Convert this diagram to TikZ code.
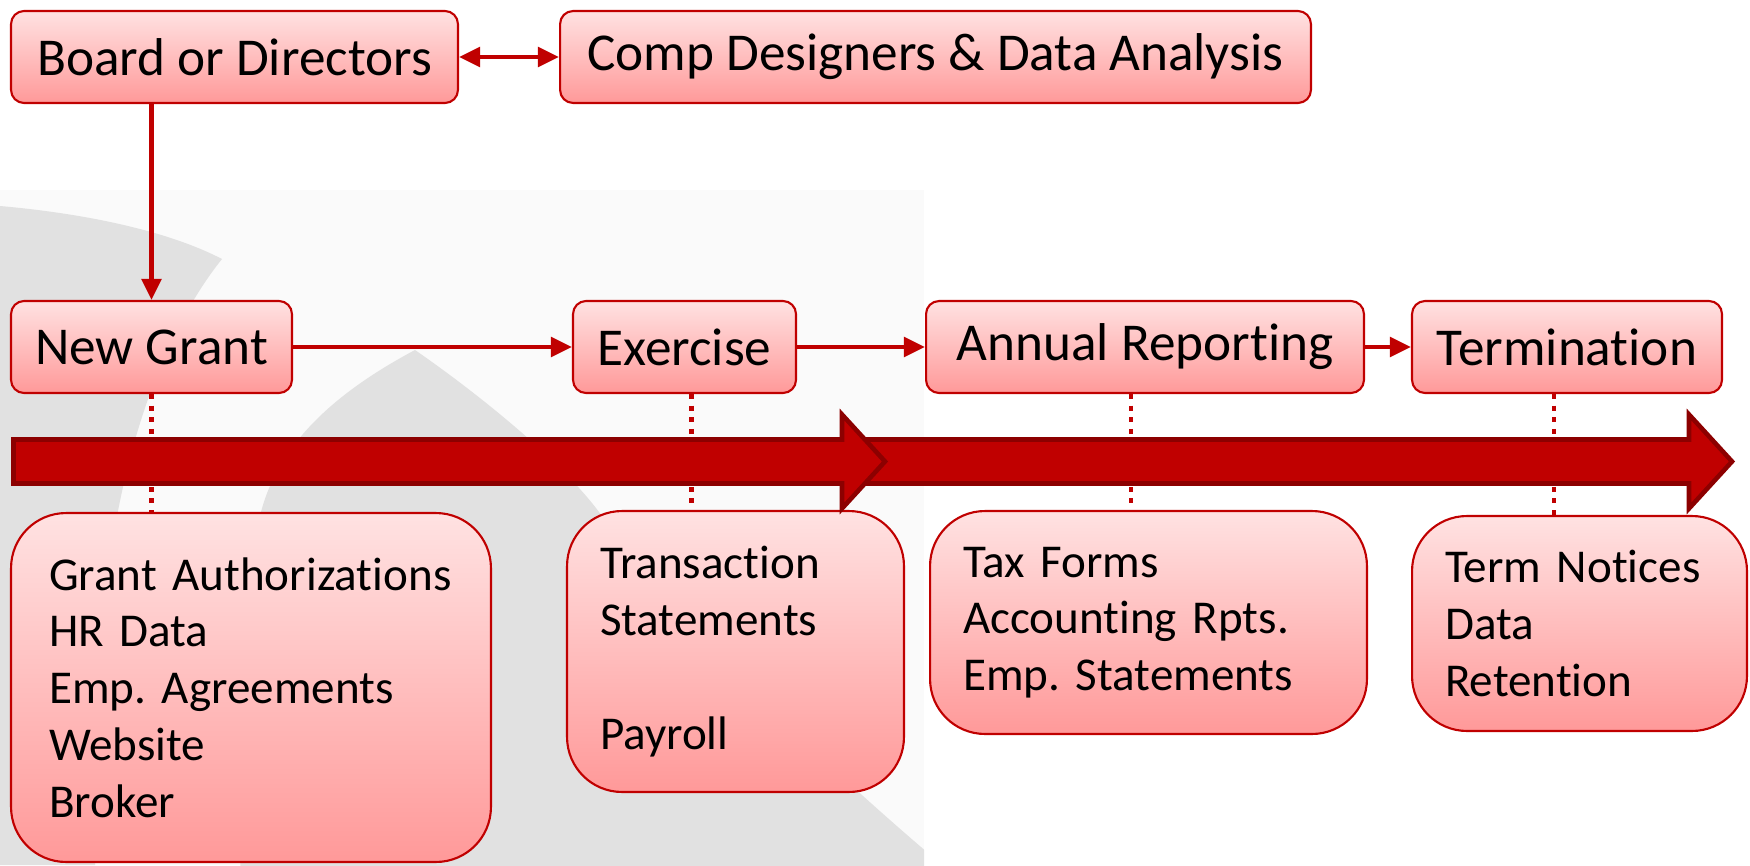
\documentclass[tikz,border=0pt]{standalone}
\usepackage{fontspec}
\setmainfont{Carlito}[Ligatures={NoCommon}]
\frenchspacing
\hyphenpenalty=10000
\usetikzlibrary{arrows.meta,positioning,calc}

\definecolor{boxred}{RGB}{192,0,0}
\definecolor{darkred}{RGB}{140,0,0}
\definecolor{pinktop}{RGB}{255,226,226}
\definecolor{pinkbot}{RGB}{255,153,153}
\definecolor{logogray}{RGB}{225,225,225}
\definecolor{panelgray}{RGB}{250,250,250}

\begin{document}
\begin{tikzpicture}[x=0.02cm,y=-0.02cm,
  box/.style={draw=boxred,line width=1.2pt,top color=pinktop,bottom color=pinkbot,
    rounded corners=0.26cm,minimum height=1.84cm,inner sep=0pt,anchor=center,
    font=\fontsize{30.3}{36}\selectfont},
  docbox/.style={box,rounded corners=1.1cm,align=left,inner xsep=0.66cm,
    font=\fontsize{26.8}{32.3}\selectfont},
  flow/.style={draw=boxred,line width=2.6pt,-{Triangle[length=12pt,width=11pt]}},
  dotline/.style={draw=boxred,line width=2.8pt,dash pattern=on 2.8pt off 3.8pt},
  bigarrow/.style={fill=boxred,draw=darkred,line width=2.6pt,line join=miter}]

  \useasboundingbox (0,0) rectangle (1750,865);

  % faint logo behind the left half
  \fill[panelgray] (0,190) rectangle (924,865);
  \begin{scope}
    \clip (0,190) rectangle (924,865);
    \fill[logogray] (0,206) .. controls (90,214) and (170,232) .. (222,259)
      .. controls (165,330) and (120,450) .. (105,600)
      .. controls (98,700) and (95,800) .. (95,865) -- (0,865) -- cycle;
    \fill[logogray] (415,350) .. controls (480,395) and (560,460) .. (599,512)
      .. controls (700,650) and (840,780) .. (960,880) -- (240,880)
      .. controls (245,700) and (248,580) .. (261,512)
      .. controls (280,440) and (340,390) .. (415,350) -- cycle;
  \end{scope}

  % who decides
  \node[box,minimum width=8.94cm] (board) at (234.5,57) {Board or Directors};
  \node[box,minimum width=15.02cm] (comp) at (935.5,57) {Comp Designers \& Data Analysis};

  % life cycle of a grant
  \node[box,minimum width=5.62cm] (grant) at (151.5,347) {New Grant};
  \node[box,minimum width=4.46cm] (exercise) at (684.5,347) {Exercise};
  \node[box,minimum width=8.76cm] (annual) at (1145,347) {Annual Reporting};
  \node[box,minimum width=6.2cm] (term) at (1567,347) {Termination};

  % records at each stage
  \node[docbox,inner xsep=0.76cm,text width=8.08cm,minimum height=6.98cm] (grantdocs) at (251,687.5)
    {Grant Authorizations\\HR Data\\Emp. Agreements\\Website\\Broker};
  \node[docbox,text width=5.42cm,minimum height=5.62cm] (txndocs) at (735.5,651.5)
    {Transaction\\Statements\\[32.3pt]Payroll};
  \node[docbox,text width=7.42cm,minimum height=4.46cm] (taxdocs) at (1148.5,622.5)
    {Tax Forms\\Accounting Rpts.\\Emp. Statements};
  \node[docbox,text width=5.38cm,minimum height=4.3cm] (termdocs) at (1579.5,623.5)
    {Term Notices\\Data\\Retention};

  \draw[flow,{Triangle[length=12pt,width=11pt]}-{Triangle[length=12pt,width=11pt]}]
    (board.east) -- (comp.west);
  \draw[flow] (board.south -| grant) -- (grant.north);
  \draw[flow] (grant.east) -- (exercise.west);
  \draw[flow] (exercise.east) -- (annual.west);
  \draw[flow] (annual.east) -- (term.west);

  \foreach \a/\b/\s in {grant/grantdocs/0,exercise/txndocs/7,annual/taxdocs/-14,term/termdocs/-13}
    \draw[dotline] ([xshift=\s*0.02cm]\a.south) -- ([xshift=\s*0.02cm]\a.south |- \b.north);

  % time line, two block arrows
  \draw[bigarrow] (850,439.5) -- (1689,439.5) -- (1689,414.5) -- (1732,461.5)
    -- (1689,508.5) -- (1689,483.5) -- (850,483.5) -- cycle;
  \draw[bigarrow] (13.5,439.5) -- (842,439.5) -- (842,414.5) -- (885,461.5)
    -- (842,508.5) -- (842,483.5) -- (13.5,483.5) -- cycle;

\end{tikzpicture}
\end{document}
